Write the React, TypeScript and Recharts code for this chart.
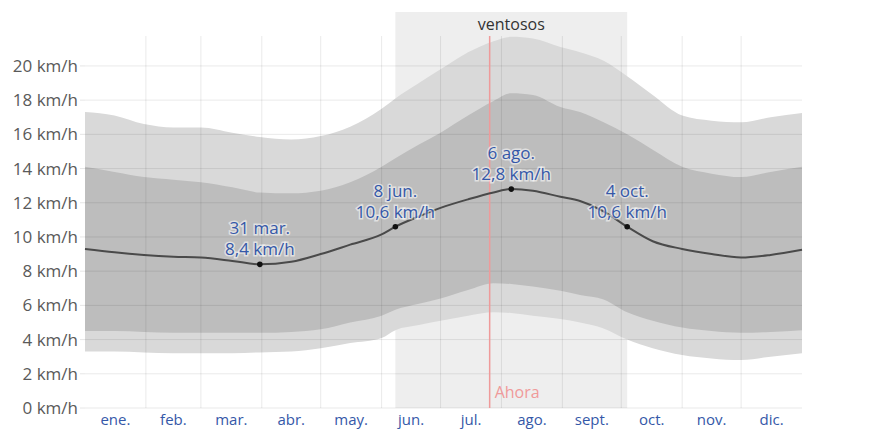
import React from 'react';
import {
  ComposedChart,
  Area,
  Line,
  XAxis,
  YAxis,
  ReferenceLine,
  ReferenceArea,
  ReferenceDot,
} from 'recharts';

// Day of year (0 = 1 Jan, 365 = 31 Dec end)
const days = [0, 15, 30, 45, 59, 75, 89, 105, 120, 135, 151, 158, 170, 181, 195, 208, 217, 228, 242, 252, 264, 276, 289, 304, 319, 334, 349, 365];
// Average wind speed (km/h)
const mean = [9.3, 9.1, 8.95, 8.85, 8.8, 8.6, 8.4, 8.55, 9.0, 9.55, 10.15, 10.6, 11.2, 11.7, 12.2, 12.6, 12.8, 12.7, 12.35, 12.1, 11.5, 10.6, 9.75, 9.3, 9.0, 8.8, 8.95, 9.25];
// Percentile bands
const p10 = [3.3, 3.3, 3.25, 3.2, 3.2, 3.2, 3.25, 3.3, 3.5, 3.8, 4.1, 4.55, 4.85, 5.1, 5.4, 5.6, 5.55, 5.4, 5.2, 5.0, 4.65, 4.0, 3.5, 3.1, 2.9, 2.8, 3.0, 3.2];
const p25 = [4.5, 4.5, 4.45, 4.4, 4.4, 4.4, 4.4, 4.45, 4.6, 5.0, 5.4, 5.75, 6.1, 6.4, 6.9, 7.3, 7.25, 7.1, 6.85, 6.6, 6.35, 5.6, 5.1, 4.7, 4.5, 4.4, 4.45, 4.55];
const p75 = [14.1, 13.8, 13.5, 13.35, 13.2, 12.9, 12.6, 12.55, 12.7, 13.2, 14.1, 14.6, 15.4, 16.1, 17.1, 17.95, 18.4, 18.3, 17.6, 17.3, 16.7, 16.0, 15.1, 14.1, 13.7, 13.5, 13.8, 14.1];
const p90 = [17.3, 17.1, 16.6, 16.4, 16.4, 16.1, 15.85, 15.7, 15.9, 16.45, 17.5, 18.1, 19.0, 19.8, 20.8, 21.45, 21.7, 21.6, 21.1, 20.8, 20.3, 19.4, 18.3, 17.1, 16.8, 16.7, 17.0, 17.25];

const monthNames = ['ene.', 'feb.', 'mar.', 'abr.', 'may.', 'jun.', 'jul.', 'ago.', 'sept.', 'oct.', 'nov.', 'dic.'];
const monthLengths = [31, 28, 31, 30, 31, 30, 31, 31, 30, 31, 30, 31];
const yTicks = [0, 2, 4, 6, 8, 10, 12, 14, 16, 18, 20];
const yMax = 21.75;

const annoDays = [89, 158, 217, 276];
const annoDates = ['31 mar.', '8 jun.', '6 ago.', '4 oct.'];
const annoValues = [8.4, 10.6, 12.8, 10.6];

const windyStart = 158;
const windyEnd = 276;
const windyLabel = 'ventosos';
const nowDay = 206;
const nowLabel = 'Ahora';

const monthStarts: number[] = [];
monthLengths.reduce((acc, l) => {
  monthStarts.push(acc);
  return acc + l;
}, 0);
const monthBoundaries = monthStarts.slice(1);
const monthTicks = monthStarts.map((s, i) => s + monthLengths[i] / 2);

const data = days.map((d, i) => ({
  day: d,
  mean: mean[i],
  outer: [p10[i], p90[i]],
  inner: [p25[i], p75[i]],
}));

const fmt = (v: number) => `${v} km/h`;
const fmtVal = (v: number) => `${v.toFixed(1).replace('.', ',')} km/h`;

const GRID = 'rgba(0,0,0,0.085)';
const BLUE = '#3558a8';
const FONT = '"Open Sans", sans-serif';

export default function App() {
  return (
    <div style={{ position: 'absolute', left: 0, top: 0, fontFamily: FONT, background: '#fff' }}>
      <ComposedChart width={877} height={429} data={data} margin={{ top: 36, right: 0, bottom: 0, left: 0 }}>
        <ReferenceArea
          x1={windyStart}
          x2={windyEnd}
          yAxisId="l"
          zIndex={-50}
          shape={(p: any) => (
            <g>
              <rect x={p.x} y={p.y - 24} width={p.width} height={p.height + 24} fill="#eeeeee" />
              <text x={p.x + p.width / 2} y={p.y - 6} textAnchor="middle" fontSize={16} fill="#333" fontFamily={FONT}>
                {windyLabel}
              </text>
            </g>
          )}
        />
        <XAxis
          dataKey="day"
          type="number"
          domain={[0, 365]}
          ticks={monthTicks}
          tickFormatter={(v: number, i: number) => monthNames[i]}
          interval={0}
          axisLine={false}
          tickLine={false}
          tickMargin={0}
          height={21}
          tick={{ fill: BLUE, fontSize: 15 }}
        />
        <YAxis
          yAxisId="l"
          domain={[0, yMax]}
          ticks={yTicks}
          tickFormatter={fmt}
          width={85}
          axisLine={false}
          tickLine={{ stroke: '#e6e6e6' }}
          tickSize={5}
          tickMargin={2}
          tick={{ fill: '#5a5a5a', fontSize: 17 }}
        />
        <YAxis
          yAxisId="r"
          orientation="right"
          domain={[0, yMax]}
          ticks={yTicks}
          tickFormatter={fmt}
          width={75}
          axisLine={false}
          tickLine={{ stroke: '#e6e6e6' }}
          tickSize={5}
          tickMargin={1}
          tick={{ fill: '#5a5a5a', fontSize: 17, textAnchor: 'start' }}
        />
        <Area yAxisId="l" type="monotone" dataKey="outer" stroke="none" fill="#d9d9d9" fillOpacity={1} isAnimationActive={false} />
        <Area yAxisId="l" type="monotone" dataKey="inner" stroke="none" fill="#bdbdbd" fillOpacity={1} isAnimationActive={false} />
        {yTicks.map((t) => (
          <ReferenceLine key={'h' + t} yAxisId="l" y={t} stroke={GRID} strokeWidth={1} />
        ))}
        {monthBoundaries.map((b) => (
          <ReferenceLine key={'v' + b} yAxisId="l" x={b} stroke={GRID} strokeWidth={1} />
        ))}
        <ReferenceLine
          yAxisId="l"
          x={nowDay}
          stroke="#ef9a9a"
          strokeWidth={1.5}
          label={(p: any) => (
            <text x={p.viewBox.x + 5} y={p.viewBox.y + p.viewBox.height - 10} fontSize={16} fill="#f09a9a" fontFamily={FONT}>
              {nowLabel}
            </text>
          )}
        />
        <Line yAxisId="l" type="monotone" dataKey="mean" stroke="#4a4a4a" strokeWidth={2} dot={false} isAnimationActive={false} />
        {annoDays.map((d, i) => (
          <ReferenceDot
            key={'a' + i}
            yAxisId="l"
            x={d}
            y={annoValues[i]}
            r={3}
            shape={(p: any) => (
              <g>
                <circle cx={p.cx} cy={p.cy} r={2.8} fill="#111" />
                <text
                  x={p.cx}
                  y={p.cy - 30}
                  textAnchor="middle"
                  fontSize={17}
                  fill={BLUE}
                  stroke="rgba(255,255,255,0.55)"
                  strokeWidth={3}
                  paintOrder="stroke"
                  fontFamily={FONT}
                >
                  {annoDates[i]}
                </text>
                <text
                  x={p.cx}
                  y={p.cy - 9}
                  textAnchor="middle"
                  fontSize={17}
                  fill={BLUE}
                  stroke="rgba(255,255,255,0.55)"
                  strokeWidth={3}
                  paintOrder="stroke"
                  fontFamily={FONT}
                >
                  {fmtVal(annoValues[i])}
                </text>
              </g>
            )}
          />
        ))}
      </ComposedChart>
    </div>
  );
}
